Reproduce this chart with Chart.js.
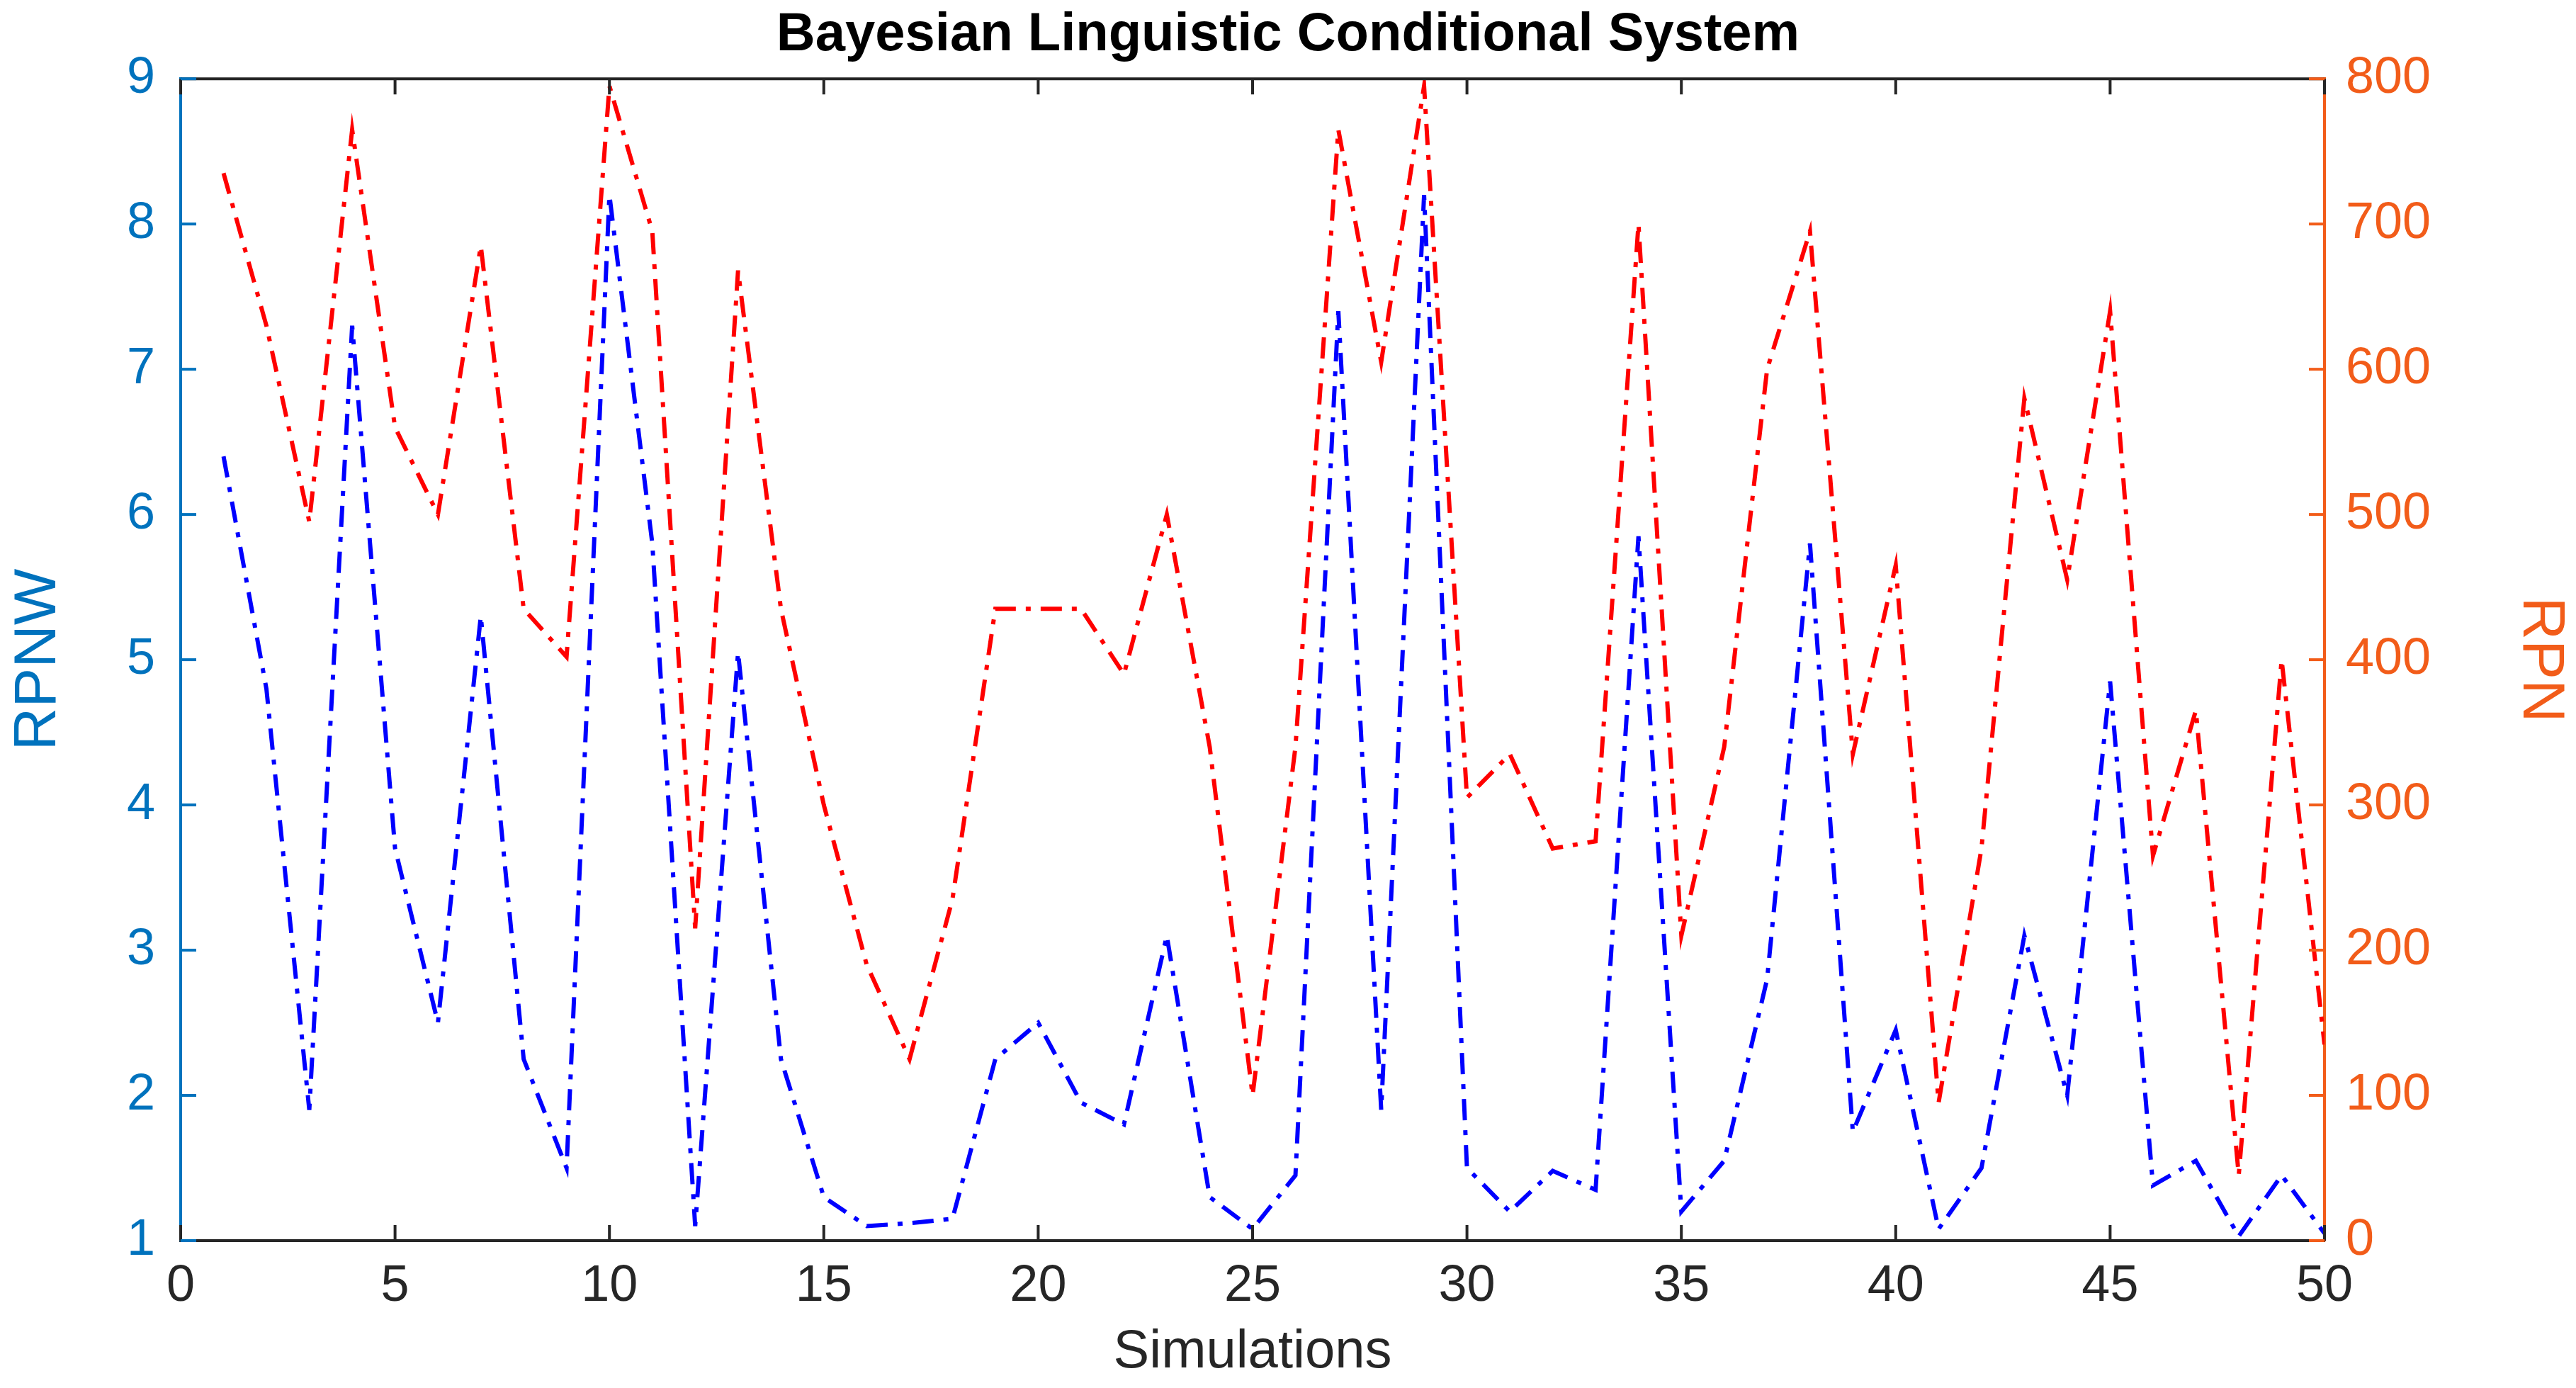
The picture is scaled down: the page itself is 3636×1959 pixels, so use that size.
<!DOCTYPE html>
<html>
<head>
<meta charset="utf-8">
<script src="https://cdn.jsdelivr.net/npm/chart.js@4.4.0/dist/chart.umd.min.js"></script>
<style>
  html, body { margin: 0; padding: 0; background: #fff; }
  #wrap { width: 3636px; height: 1959px; }
</style>
</head>
<body>
<div id="wrap"><canvas id="chart"></canvas></div>
<script>
const simulations = Array.from({ length: 50 }, (_, i) => i + 1);
const rpnwValues = [6.4, 4.8, 1.9, 7.3, 3.7, 2.5, 5.3, 2.25, 1.5, 8.2,
    5.8, 1.1, 5.05, 2.25, 1.3, 1.1, 1.12, 1.15, 2.25, 2.5,
    1.95, 1.8, 3.1, 1.3, 1.08, 1.45, 7.4, 1.9, 8.2, 1.5,
    1.2, 1.48, 1.35, 5.85, 1.2, 1.55, 2.8, 5.8, 1.75, 2.45,
    1.08, 1.5, 3.1, 2.0, 4.85, 1.38, 1.55, 1.03, 1.45, 1.05];
const rpnValues = [735, 630, 495, 765, 560, 500, 685, 435, 402, 795,
    695, 215, 668, 435, 300, 190, 125, 235, 435, 435,
    435, 390, 500, 340, 100, 340, 765, 605, 795, 305,
    335, 270, 275, 700, 210, 340, 600, 695, 335, 465,
    95, 270, 580, 455, 640, 265, 365, 45, 400, 135];
const xTicks = [0, 5, 10, 15, 20, 25, 30, 35, 40, 45, 50];

const LEFT_COLOR = '#0072BD';
const RIGHT_COLOR = '#F25C19';
const FONT = 'Liberation Sans, Arial, sans-serif';

// top border + inward tick marks, like the matlab box
const boxPlugin = {
    id: 'box',
    afterDraw(chart) {
        const { ctx, chartArea: a, scales } = chart;
        ctx.save();
        ctx.lineWidth = 4;
        ctx.strokeStyle = '#262626';
        ctx.beginPath();
        ctx.moveTo(a.left, a.top);
        ctx.lineTo(a.right, a.top);
        ctx.stroke();
        const len = 22;
        scales.x.ticks.forEach(t => {
            const px = scales.x.getPixelForValue(t.value);
            ctx.beginPath();
            ctx.moveTo(px, a.bottom); ctx.lineTo(px, a.bottom - len);
            ctx.moveTo(px, a.top); ctx.lineTo(px, a.top + len);
            ctx.stroke();
        });
        ctx.strokeStyle = LEFT_COLOR;
        scales.y.ticks.forEach(t => {
            const py = scales.y.getPixelForValue(t.value);
            ctx.beginPath(); ctx.moveTo(a.left, py); ctx.lineTo(a.left + len, py); ctx.stroke();
        });
        ctx.strokeStyle = RIGHT_COLOR;
        scales.y1.ticks.forEach(t => {
            const py = scales.y1.getPixelForValue(t.value);
            ctx.beginPath(); ctx.moveTo(a.right, py); ctx.lineTo(a.right - len, py); ctx.stroke();
        });
        ctx.restore();
    }
};

new Chart(document.getElementById('chart'), {
    type: 'line',
    data: {
        datasets: [{
            label: 'RPNW',
            data: simulations.map((s, i) => ({ x: s, y: rpnwValues[i] })),
            borderColor: '#0000FF',
            borderWidth: 6,
            borderDash: [30, 14, 7, 14],
            pointRadius: 0,
            tension: 0,
            yAxisID: 'y'
        }, {
            label: 'RPN',
            data: simulations.map((s, i) => ({ x: s, y: rpnValues[i] })),
            borderColor: '#FF0000',
            borderWidth: 6,
            borderDash: [30, 14, 7, 14],
            pointRadius: 0,
            tension: 0,
            yAxisID: 'y1'
        }]
    },
    options: {
        responsive: true,
        maintainAspectRatio: false,
        animation: false,
        layout: { padding: { top: 0, bottom: 0, left: 0, right: 0 } },
        plugins: {
            legend: { display: false },
            tooltip: { enabled: false },
            title: {
                display: true,
                text: 'Bayesian Linguistic Conditional System',
                color: '#000',
                font: { family: FONT, size: 76, weight: 'bold' },
                padding: { top: 4, bottom: 16 }
            }
        },
        scales: {
            x: {
                type: 'linear',
                min: 0, max: 50,
                afterBuildTicks: s => { s.ticks = xTicks.map(v => ({ value: v })); },
                afterFit: s => { s.height = 208; },
                grid: { display: false },
                border: { display: true, color: '#262626', width: 4 },
                ticks: { color: '#262626', font: { family: FONT, size: 72 }, padding: 14 },
                title: { display: true, text: 'Simulations', color: '#262626', font: { family: FONT, size: 76 }, padding: { top: 0 } }
            },
            y: {
                position: 'left',
                min: 1, max: 9,
                afterFit: s => { s.width = 255; },
                grid: { display: false },
                border: { display: true, color: LEFT_COLOR, width: 4 },
                ticks: { stepSize: 1, color: LEFT_COLOR, font: { family: FONT, size: 72 }, padding: 28 },
                title: { display: true, text: 'RPNW', color: LEFT_COLOR, font: { family: FONT, size: 84 }, padding: { bottom: 0 } }
            },
            y1: {
                position: 'right',
                min: 0, max: 800,
                afterFit: s => { s.width = 355; },
                grid: { display: false },
                border: { display: true, color: RIGHT_COLOR, width: 4 },
                ticks: { stepSize: 100, color: RIGHT_COLOR, font: { family: FONT, size: 72 }, padding: 22 },
                title: { display: true, text: 'RPN', color: RIGHT_COLOR, font: { family: FONT, size: 84 }, padding: { top: 0 } }
            }
        }
    },
    plugins: [boxPlugin]
});
</script>
</body>
</html>
